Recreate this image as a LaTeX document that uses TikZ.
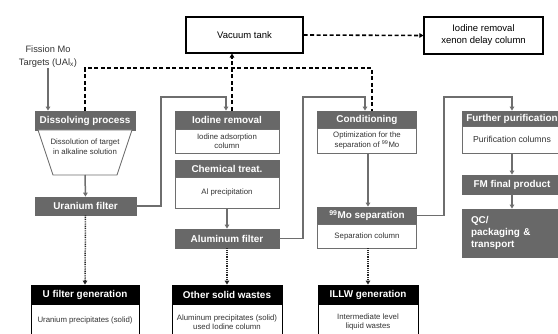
\documentclass[tikz,border=0pt]{standalone}
\usepackage{fontspec}
\setmainfont{Liberation Sans}
\usetikzlibrary{arrows.meta}
\definecolor{hdr}{HTML}{686868}
\definecolor{lnc}{HTML}{6E6E6E}
\definecolor{txc}{HTML}{333333}
\begin{document}
\begin{tikzpicture}[x=1pt,y=-1pt,
  hbox/.style={fill=hdr,draw=hdr,line width=0.8pt,text=white,inner sep=0pt,
    font=\bfseries\fontsize{9.9}{11}\selectfont},
  kbox/.style={fill=black,draw=black,line width=0.8pt,text=white,inner sep=0pt,
    font=\bfseries\fontsize{9.9}{11}\selectfont},
  cbox/.style={fill=white,draw=lnc,line width=0.9pt,text=txc,inner sep=0pt,align=center,
    font=\fontsize{7.8}{9.5}\selectfont},
  kcbox/.style={fill=white,draw=black,line width=0.9pt,text=txc,inner sep=0pt,align=center,
    font=\fontsize{7.8}{9.5}\selectfont},
  tbox/.style={fill=white,draw=black,line width=1.1pt,text=black,inner sep=0pt,align=center,
    font=\fontsize{9.5}{12}\selectfont},
  arr/.style={draw=lnc,line width=1.5pt,-{Triangle[length=4pt,width=4.5pt]}},
  dsh/.style={draw=black,line width=1.6pt,dash pattern=on 4pt off 2.5pt},
  dot/.style={draw=black!85,line width=1.5pt,dash pattern=on 0.9pt off 0.9pt},
  tip/.style={-{Triangle[length=4pt,width=4.5pt]}}
]
\useasboundingbox (0,0) rectangle (558,334);
\clip (0,0) rectangle (558,334);

% top boxes
\node[tbox,minimum width=117pt,minimum height=36pt] (vac) at (244.5,35) {Vacuum tank};
\node[tbox,minimum width=119pt,minimum height=37pt] (xen) at (483.5,35.5) {Iodine removal\\xenon delay column};

% fission targets
\node[text=txc,align=center,font=\fontsize{9.3}{13}\selectfont,inner sep=0pt] (fis) at (48,57) {Fission Mo\\Targets (UAl$_{\mathrm{x}}$)};

% dissolving
\node[hbox,minimum width=100pt,minimum height=19pt] (diss) at (85,120.5) {Dissolving process};
\draw[draw=lnc,line width=0.9pt,fill=white] (38,130) -- (132,130) -- (117,175) -- (53,175) -- cycle;
\coordinate (dbot) at (85,175);
\node[text=txc,align=center,font=\fontsize{7.8}{10}\selectfont,inner sep=0pt] (dtext) at (85,147) {Dissolution of target\\in alkaline solution};
\node[hbox,minimum width=101pt,minimum height=18pt] (ufil) at (85.5,206) {Uranium filter};

% iodine column
\node[hbox,minimum width=104pt,minimum height=18pt] (iod) at (227,120) {Iodine removal};
\node[cbox,minimum width=104pt,minimum height=24pt] (iodc) at (227,141) {Iodine adsorption\\column};
\node[hbox,minimum width=104pt,minimum height=17pt] (chem) at (227,168.5) {Chemical treat.};
\node[cbox,minimum width=104pt,minimum height=31pt] (chemc) at (227,192.5) {Al precipitation};
\node[hbox,minimum width=104pt,minimum height=19pt] (alf) at (227,238.5) {Aluminum filter};

% conditioning column
\node[hbox,minimum width=99pt,minimum height=17pt] (cond) at (367,119.5) {Conditioning};
\node[cbox,minimum width=99pt,minimum height=25pt] (condc) at (367,140.5) {Optimization for the\\separation of \textsuperscript{99}Mo};
\node[hbox,minimum width=99pt,minimum height=17pt] (mos) at (367,215.5) {\textsuperscript{99}Mo separation};
\node[cbox,minimum width=99pt,minimum height=24pt] (mosc) at (367,236) {Separation column};

% right column
\node[hbox,minimum width=100pt,minimum height=15pt] (fur) at (512,118.5) {Further purification};
\node[cbox,minimum width=100pt,minimum height=27pt,font=\fontsize{8.7}{10}\selectfont] (furc) at (512,139.5) {Purification columns};
\node[hbox,minimum width=100pt,minimum height=19pt] (fm) at (512,184.5) {FM final product};
\node[hbox,minimum width=100pt,minimum height=48pt,align=left,text width=82pt,font=\bfseries\fontsize{9.9}{12}\selectfont] (qc) at (512,233) {QC/\\packaging \&\\transport};

% waste boxes
\node[kbox,minimum width=108pt,minimum height=19pt] (ufg) at (85,294.5) {U filter generation};
\node[kcbox,minimum width=108pt,minimum height=42pt,anchor=north] (ufgc) at (ufg.south) {};
\node[text=txc,font=\fontsize{7.8}{9.5}\selectfont,inner sep=0pt] (ufgt) at (85,320) {Uranium precipitates (solid)};
\node[kbox,minimum width=110pt,minimum height=19pt] (osw) at (227,294.5) {Other solid wastes};
\node[kcbox,minimum width=110pt,minimum height=42pt,anchor=north] (oswc) at (osw.south) {};
\node[text=txc,align=center,font=\fontsize{7.8}{9.5}\selectfont,inner sep=0pt] (oswt) at (227,322) {Aluminum precipitates (solid)\\used Iodine column};
\node[kbox,minimum width=100pt,minimum height=19pt] (ill) at (368,294.5) {ILLW generation};
\node[kcbox,minimum width=100pt,minimum height=42pt,anchor=north] (illc) at (ill.south) {};
\node[text=txc,align=center,font=\fontsize{7.8}{9.5}\selectfont,inner sep=0pt] (illt) at (368,322) {Intermediate level\\liquid wastes};

% coordinates
\coordinate (dtop) at (0,68);
\coordinate (cdash) at ([xshift=5pt]cond.north);
\coordinate (cin) at ([xshift=-2pt]cond.north);
\coordinate (idash) at ([xshift=5pt]iod.north);
\coordinate (iin) at ([xshift=-1pt]iod.north);
\coordinate (b1) at (161,97);
\coordinate (b2) at (303,97);
\coordinate (b3) at (444,97);

% solid flows
\draw[arr] (fis.south) -- (fis.south |- diss.north);
\draw[arr] (dbot) -- (ufil.north);
\draw[arr] (ufil.east) -| (b1) -| (iin);
\draw[arr] (chemc.south) -- (alf.north);
\draw[arr] (alf.east) -| (b2) -| (cin);
\draw[arr] ([xshift=1pt]condc.south) -- ([xshift=1pt]mos.north);
\draw[arr] (mos.east) -| (b3) -| (fur.north);
\draw[arr] (furc.south) -- (fm.north);
\draw[arr] (fm.south) -- (qc.north);

% dashed gas flows
\draw[dsh] (diss.north) |- (cdash |- dtop) -- (cdash);
\draw[dsh,tip] (idash) -- (idash |- vac.south);
\draw[dsh,tip] (vac.east) -- (xen.west);

% dotted waste flows
\draw[dot,tip] (ufil.south) -- (ufg.north);
\draw[dot,tip] (alf.south) -- (osw.north);
\draw[dot,tip] ([xshift=1pt]mosc.south) -- (ill.north);
\end{tikzpicture}
\end{document}
